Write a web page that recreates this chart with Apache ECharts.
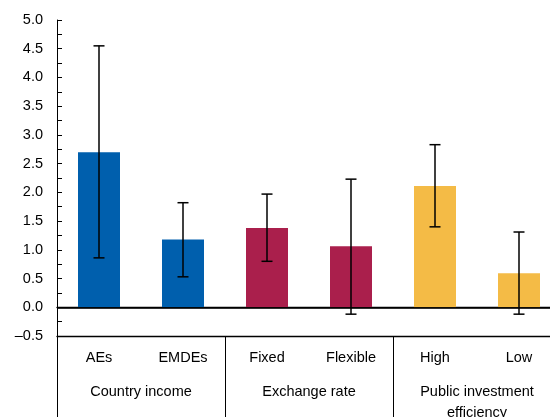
<!DOCTYPE html>
<html>
<head>
<meta charset="utf-8">
<script src="https://cdn.jsdelivr.net/npm/echarts@6/dist/echarts.min.js"></script>
<style>html,body{margin:0;padding:0;background:#fff}#c{width:550px;height:417px}</style>
</head>
<body>
<div id="c"></div>
<script>
const categories = ['AEs', 'EMDEs', 'Fixed', 'Flexible', 'High', 'Low'];
const groups = ['Country income', 'Exchange rate', 'Public investment\nefficiency'];
const values = [2.70, 1.18, 1.38, 1.06, 2.11, 0.59];
const errLow = [0.86, 0.53, 0.80, -0.12, 1.40, -0.12];
const errHigh = [4.55, 1.82, 1.97, 2.23, 2.83, 1.31];
const barGroup = [0, 0, 1, 1, 2, 2];
const groupColors = ['#005FAD', '#AA1F4C', '#F4BB46'];

const FONT = "'Liberation Sans', Arial, sans-serif";
const FS = 14.5;
const chart = echarts.init(document.getElementById('c'), null, {renderer: 'canvas'});
chart.setOption({
  animation: false,
  grid: {left: 57, top: 20, width: 504, height: 316, containLabel: false, outerBoundsMode: 'none'},
  xAxis: [{
    type: 'category', data: categories, position: 'bottom',
    axisLine: {show: true, lineStyle: {color: '#000', width: 1.3}},
    axisTick: {show: false},
    axisLabel: {color: '#000', fontFamily: FONT, fontSize: FS, margin: 14, interval: 0}
  }, {
    type: 'category', data: groups, position: 'bottom',
    axisLine: {show: true, lineStyle: {color: '#000', width: 1.3}},
    axisTick: {show: true, length: 81, interval: 0, lineStyle: {color: '#000', width: 1}},
    axisLabel: {color: '#000', fontFamily: FONT, fontSize: FS, margin: 45, lineHeight: 21, interval: 0}
  }],
  yAxis: {
    type: 'value', min: -0.5, max: 5, interval: 0.5,
    axisLine: {show: true, lineStyle: {color: '#000', width: 1}},
    axisTick: {show: true, inside: true, length: 5, lineStyle: {color: '#000'}},
    minorTick: {show: true, splitNumber: 2, length: 5, lineStyle: {color: '#000'}},
    splitLine: {show: false},
    axisLabel: {color: '#000', fontFamily: FONT, fontSize: FS, margin: 14,
      formatter: v => v.toFixed(1).replace('-', '\u2013')}
  },
  series: [{
    type: 'bar', xAxisIndex: 0, barWidth: '50%',
    data: values.map((v, i) => ({value: v, itemStyle: {color: groupColors[barGroup[i]]}})),
    markLine: {
      silent: true, symbol: 'none', label: {show: false},
      lineStyle: {color: '#000', width: 1.5, type: 'solid'},
      data: [{yAxis: 0}]
    }
  }, {
    type: 'custom', xAxisIndex: 0, z: 10,
    data: categories.map((c, i) => [i, errLow[i], errHigh[i]]),
    encode: {x: 0, y: [1, 2]},
    renderItem: function (params, api) {
      const i = api.value(0);
      const top = api.coord([i, api.value(2)]);
      const bot = api.coord([i, api.value(1)]);
      const hw = 5.5;
      const st = {stroke: '#000', lineWidth: 1.5};
      return {type: 'group', children: [
        {type: 'line', shape: {x1: top[0], y1: top[1], x2: bot[0], y2: bot[1]}, style: st},
        {type: 'line', shape: {x1: top[0] - hw, y1: top[1], x2: top[0] + hw, y2: top[1]}, style: st},
        {type: 'line', shape: {x1: bot[0] - hw, y1: bot[1], x2: bot[0] + hw, y2: bot[1]}, style: st}
      ]};
    }
  }]
});
</script>
</body>
</html>
